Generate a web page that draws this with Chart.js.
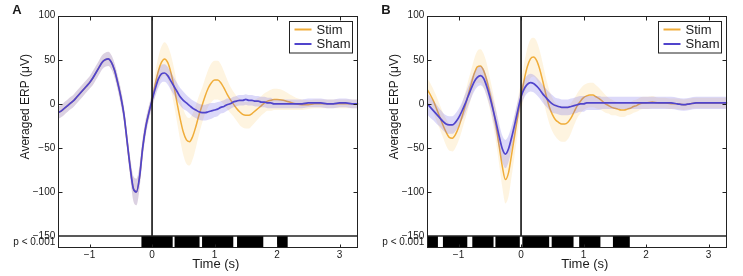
<!DOCTYPE html>
<html><head><meta charset="utf-8">
<script src="https://cdn.jsdelivr.net/npm/chart.js@4.4.1/dist/chart.umd.min.js"></script>
<style>
html,body{margin:0;padding:0;background:#fff;}
#wrap{position:relative;width:743px;height:276px;overflow:hidden;background:#fff;}
canvas{position:absolute;top:0;}
#cA{left:0;} #cB{left:369px;}
</style></head><body>
<div id="wrap"><canvas id="cA" width="370" height="276" style="width:370px;height:276px"></canvas><canvas id="cB" width="370" height="276" style="width:370px;height:276px"></canvas></div>
<script>
// ---------- data ----------
const times = [-1.5,-1.45,-1.4,-1.35,-1.3,-1.25,-1.2,-1.15,-1.1,-1.05,-1.0,-0.95,-0.9,-0.85,-0.8,-0.75,-0.7,-0.65,-0.6,-0.55,-0.5,-0.45,-0.4,-0.35,-0.3,-0.25,-0.2,-0.15,-0.1,-0.05,0,0.05,0.1,0.15,0.2,0.25,0.3,0.35,0.4,0.45,0.5,0.55,0.6,0.65,0.7,0.75,0.8,0.85,0.9,0.95,1.0,1.05,1.1,1.15,1.2,1.25,1.3,1.35,1.4,1.45,1.5,1.55,1.6,1.65,1.7,1.75,1.8,1.85,1.9,1.95,2.0,2.1,2.2,2.3,2.4,2.5,2.6,2.7,2.8,2.9,3.0,3.1,3.2,3.3];

const stimA = [-10,-8,-5,-2,1,4,8,12,16,20, 24,29,35,41,47,50,51,47,38,24, 8,-12,-42,-72,-96,-100,-83,-50,-26,-10, 4,
  22,37,47,51,47,36,20,1,-17,-32, -41,-43,-37,-26,-13,-2,9,18,24,27, 27,24,18,11,5,0,-5,-9,-12,-13, -13,-11,-8,-5,-2,1,3,4,5,5,
  4,2,0,-1,-1,0,0,0,0,0,0,0,0];
const shamA = [-10,-8,-5,-2,1,4,8,12,16,20, 24,29,35,41,47,50,51,47,38,24, 8,-12,-42,-72,-96,-100,-83,-50,-26,-10, 4,
  17,28,34,35,32,26,20,14,8,4, 1,-2,-5,-7,-9,-10,-10,-9,-8,-7, -6,-4,-3,-1,0,2,3,4,4,5, 4,4,3,3,2,2,1,1,0,0,
  0,0,0,0,1,1,1,0,0,1,1,0,0];
const stimAErr = [7,7,7,7,7,7,7,7,7,7, 7,8,8,8,8,8,8,8,8,8, 9,9,9,11,14,15,13,11,9,8, 8,
  13,16,18,19,19,20,21,22,24,26, 27,27,26,24,22,20,20,21,22,22, 22,21,19,17,15,14,14,15,15,15, 15,14,13,12,11,11,11,12,12,12,
  11,9,7,6,5,5,5,5,5,5,5,5,5];
const shamAErr = [7,7,7,7,7,7,7,7,7,7, 7,8,8,8,8,8,8,8,8,8, 9,9,9,11,14,15,13,11,9,8, 8,
  9,10,10,10,10,10,10,10,10,10, 9,9,9,9,9,9,9,9,9,8, 8,7,7,7,6,6,6,6,6,6, 6,6,6,6,6,6,6,6,5,5,
  5,5,5,5,5,5,5,5,5,5,5,5,5];

const stimB = [16,10,3,-6,-15,-24,-32,-38,-39,-35, -27,-16,-4,9,22,34,42,43,38,27, 12,-5,-25,-48,-71,-86,-78,-57,-35,-13, 8,
  27,42,51,53,49,39,25,10,-3,-12, -18,-21,-23,-23,-21,-16,-9,-2,3,7, 9,10,10,8,6,3,0,-2,-4,-5, -6,-7,-7,-6,-5,-3,-2,0,1,1,
  2,1,1,0,0,-1,0,1,1,1,1,1,1];
const shamB = [0,-4,-8,-12,-16,-20,-23,-24,-24,-21, -16,-9,-1,8,17,25,30,32,29,20, 8,-6,-21,-37,-51,-57,-51,-38,-23,-7, 8,
  17,22,24,23,20,16,11,7,3,0, -2,-3,-4,-4,-4,-3,-2,-1,0,0, 1,1,1,1,1,1,1,1,1,1, 1,1,1,1,1,1,1,1,1,1,
  1,1,1,1,0,-1,0,1,1,1,1,1,1];
const stimBErr = [13,13,13,14,14,14,15,15,15,15, 15,15,15,16,16,17,18,19,19,19, 18,18,19,21,24,27,27,25,22,19, 17,
  19,21,22,22,22,21,20,19,19,19, 19,20,20,20,19,17,15,14,14,14, 14,14,14,13,12,11,10,9,9,8, 8,8,8,7,7,7,7,7,7,7,
  7,6,6,6,6,6,6,6,6,6,6,6,6];
const shamBErr = [12,12,11,11,10,10,10,10,10,10, 10,10,11,11,11,11,11,11,11,11, 11,12,13,14,15,16,15,13,12,11, 10,
  10,10,10,10,10,10,10,10,10,10, 9,9,9,9,9,9,9,9,9,9, 8,8,8,8,8,7,7,7,7,7, 7,7,7,7,7,7,7,7,7,7,
  7,7,7,7,7,7,7,7,7,7,7,7,7];

// significance intervals (s), p < 0.001
const sigA = [[-0.17,0.33],[0.36,0.76],[0.80,1.30],[1.36,1.78],[2.00,2.17]];
const sigB = [[-1.5,-1.33],[-1.25,-0.86],[-0.78,-0.44],[-0.41,-0.02],[0.02,0.45],[0.49,0.84],[0.93,1.27],[1.47,1.74]];

const seriesNames = ['Stim','Sham'];
const panelLetters = ['A','B'];
const xTicks = [-1,0,1,2,3];
const yTicks = [-150,-100,-50,0,50,100];
const xRange = [-1.5,3.3];
const yRange = [-150,100];
const onsetTime = 0;
const sigLabel = 'p < 0.001';
const yTitle = 'Averaged ERP (\u03BCV)';
const xTitle = 'Time (s)';

// ---------- style ----------
const FONT = '"Liberation Sans", Arial, sans-serif';
const STIM_COLOR = '#f0ad3a';
const SHAM_COLOR = '#5044cc';
const STIM_BAND = 'rgba(252,206,115,0.22)';
const SHAM_BAND = 'rgba(110,95,230,0.24)';
const TXT = '#1a1a1a';
Chart.defaults.font.family = FONT;
Chart.defaults.font.size = 10;
Chart.defaults.color = TXT;

const minusFmt = v => String(v).replace('-', '\u2212');

const decor = {
  id: 'decor',
  afterDraw(chart) {
    const o = chart.options.plugins.decor;
    const ctx = chart.ctx, ca = chart.chartArea;
    const xs = chart.scales.x, ys = chart.scales.y, ss = chart.scales.ySig;
    ctx.save();
    const L = Math.round(ca.left) + 0.5, R = Math.round(ca.right) - 0.5;
    const T = Math.round(ys.top) + 0.5, M = Math.round(ys.bottom), B = Math.round(ss.bottom) - 0.5;
    // frame
    ctx.strokeStyle = '#222';
    ctx.lineWidth = 1;
    ctx.strokeRect(L, T, R - L, B - T);
    ctx.lineWidth = 1.6;
    ctx.beginPath(); ctx.moveTo(L, M); ctx.lineTo(R, M); ctx.stroke();
    // inward ticks
    ctx.lineWidth = 1;
    ctx.beginPath();
    yTicks.forEach(v => {
      const py = Math.round(ys.getPixelForValue(v)) + 0.5;
      if (py > T + 1 && py < M - 1) { ctx.moveTo(L, py); ctx.lineTo(L + 4, py); ctx.moveTo(R, py); ctx.lineTo(R - 4, py); }
    });
    xTicks.forEach(v => {
      const px = Math.round(xs.getPixelForValue(v)) + 0.5;
      ctx.moveTo(px, T); ctx.lineTo(px, T + 4);
      ctx.moveTo(px, B); ctx.lineTo(px, B - 3);
    });
    ctx.stroke();
    // legend
    const bw = 63, bh = 31.5;
    const bx = Math.round(ca.right - 6 - bw) + 0.5, by = Math.round(ca.top + 5) + 0.5;
    ctx.fillStyle = '#fff';
    ctx.fillRect(bx, by, bw, bh);
    ctx.strokeStyle = '#222';
    ctx.lineWidth = 1;
    ctx.strokeRect(bx, by, bw, bh);
    const cols = [STIM_COLOR, SHAM_COLOR];
    ctx.font = '13px ' + FONT;
    ctx.textBaseline = 'middle';
    ctx.textAlign = 'left';
    seriesNames.forEach((n, i) => {
      const cy = by + 8 + i * 14.5;
      ctx.strokeStyle = cols[i];
      ctx.lineWidth = 2;
      ctx.beginPath(); ctx.moveTo(bx + 5, cy); ctx.lineTo(bx + 22, cy); ctx.stroke();
      ctx.fillStyle = TXT;
      ctx.fillText(n, bx + 27, cy + 0.5);
    });
    // axis titles
    ctx.fillStyle = TXT;
    ctx.font = '12px ' + FONT;
    ctx.save();
    ctx.translate(ca.left - 33, ys.top + 91);
    ctx.rotate(-Math.PI / 2);
    ctx.textAlign = 'center';
    ctx.textBaseline = 'middle';
    ctx.fillText(yTitle, 0, 0);
    ctx.restore();
    ctx.font = '13px ' + FONT;
    ctx.textAlign = 'center';
    ctx.textBaseline = 'middle';
    ctx.fillText(xTitle, (ca.left + ca.right) / 2 + 7.5, ss.bottom + 16.5);
    // panel letter
    ctx.font = 'bold 13px ' + FONT;
    ctx.textAlign = 'left';
    ctx.textBaseline = 'top';
    ctx.fillText(o.letter, ca.left - 46, 4);
    ctx.restore();
  }
};

function pts(mean, err, sign) {
  return times.map((t, i) => ({x: t, y: mean[i] + sign * (err ? err[i] : 0)}));
}
function sigPts(iv) {
  const p = [{x: xRange[0], y: 0}];
  iv.forEach(([s, e]) => { p.push({x: s, y: 1}); p.push({x: e, y: 0}); });
  p.push({x: xRange[1], y: 0});
  return p;
}

function makeChart(id, letter, stim, stimErr, sham, shamErr, sig) {
  const clear = 'rgba(0,0,0,0)';
  const datasets = [
    {label: 'onset', data: [{x: onsetTime, y: yRange[0]}, {x: onsetTime, y: yRange[1]}], borderColor: '#111', borderWidth: 1.6, order: 0, yAxisID: 'y'},
    {label: seriesNames[1], data: pts(sham, null, 0), borderColor: SHAM_COLOR, borderWidth: 1.7, order: 1, yAxisID: 'y', cubicInterpolationMode: 'monotone'},
    {label: 'shamHi', data: pts(sham, shamErr, 1), borderColor: clear, borderWidth: 0, backgroundColor: SHAM_BAND, fill: '+1', order: 2, yAxisID: 'y', cubicInterpolationMode: 'monotone'},
    {label: 'shamLo', data: pts(sham, shamErr, -1), borderColor: clear, borderWidth: 0, fill: false, order: 3, yAxisID: 'y', cubicInterpolationMode: 'monotone'},
    {label: seriesNames[0], data: pts(stim, null, 0), borderColor: STIM_COLOR, borderWidth: 1.5, order: 4, yAxisID: 'y', cubicInterpolationMode: 'monotone'},
    {label: 'stimHi', data: pts(stim, stimErr, 1), borderColor: clear, borderWidth: 0, backgroundColor: STIM_BAND, fill: '+1', order: 5, yAxisID: 'y', cubicInterpolationMode: 'monotone'},
    {label: 'stimLo', data: pts(stim, stimErr, -1), borderColor: clear, borderWidth: 0, fill: false, order: 6, yAxisID: 'y', cubicInterpolationMode: 'monotone'},
    {label: 'sig', data: sigPts(sig), borderColor: clear, borderWidth: 0, backgroundColor: '#000', fill: 'origin', stepped: true, order: 7, yAxisID: 'ySig'}
  ];
  return new Chart(document.getElementById(id), {
    type: 'line',
    data: {datasets},
    plugins: [decor],
    options: {
      responsive: false,
      animation: false,
      events: [],
      parsing: true,
      elements: {point: {radius: 0}, line: {tension: 0}},
      layout: {padding: {top: 15.7, right: 11.7, left: 0, bottom: 0}},
      plugins: {legend: {display: false}, tooltip: {enabled: false}, decor: {letter}},
      scales: {
        x: {
          type: 'linear', min: xRange[0], max: xRange[1],
          grid: {display: false, drawTicks: false}, border: {display: false},
          afterBuildTicks: s => { s.ticks = xTicks.map(v => ({value: v})); },
          afterFit: s => { s.height = 27.7; },
          ticks: {padding: 1, callback: minusFmt, maxRotation: 0, autoSkip: false, font: {size: 10}}
        },
        y: {
          type: 'linear', position: 'left', stack: 'v', stackWeight: 220.3, weight: 2,
          min: yRange[0], max: yRange[1],
          grid: {display: false, drawTicks: false}, border: {display: false},
          afterBuildTicks: s => { s.ticks = yTicks.map(v => ({value: v})); },
          afterFit: s => { s.width = 58.3; },
          ticks: {padding: 3, callback: minusFmt, autoSkip: false, font: {size: 10}}
        },
        ySig: {
          type: 'linear', position: 'left', stack: 'v', stackWeight: 12.3, weight: 1,
          min: 0, max: 1,
          grid: {display: false, drawTicks: false}, border: {display: false},
          afterBuildTicks: s => { s.ticks = [{value: 0.5}]; },
          afterFit: s => { s.width = 58.3; },
          ticks: {padding: 3, callback: () => sigLabel, autoSkip: false, font: {size: 10}}
        }
      }
    }
  });
}

makeChart('cA', panelLetters[0], stimA, stimAErr, shamA, shamAErr, sigA);
makeChart('cB', panelLetters[1], stimB, stimBErr, shamB, shamBErr, sigB);
</script>
</body></html>
